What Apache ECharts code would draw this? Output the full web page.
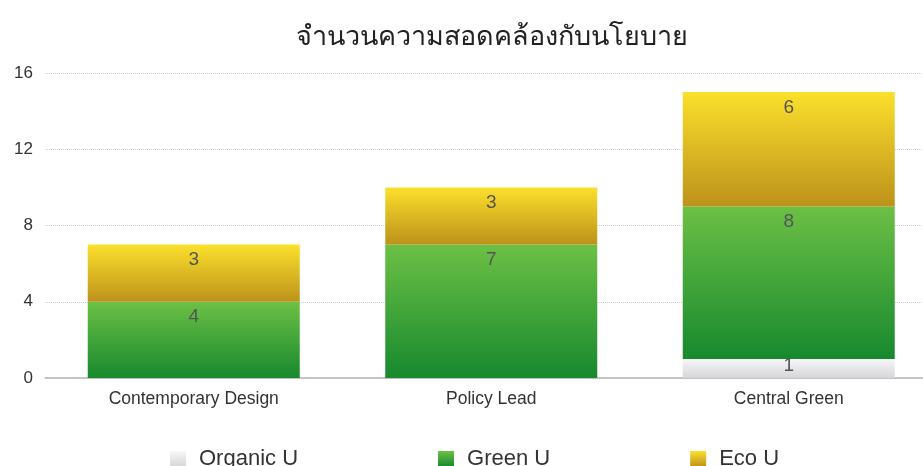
<!DOCTYPE html>
<html>
<head>
<meta charset="utf-8">
<script src="https://cdn.jsdelivr.net/npm/echarts@6/dist/echarts.min.js"></script>
<style>
  html, body { margin: 0; padding: 0; background: #fff; }
  #chart { width: 923px; height: 466px; }
</style>
</head>
<body>
<div id="chart"></div>
<script>
const titleText = 'จำนวนความสอดคล้องกับนโยบาย';
const categories = ['Contemporary Design', 'Policy Lead', 'Central Green'];
const organicU = [0, 0, 1];
const greenU = [4, 7, 8];
const ecoU = [3, 3, 6];
const yTicks = { min: 0, max: 16, interval: 4 };

const FONT = '"Helvetica Neue", "Liberation Sans", Arial, "Noto Sans", sans-serif';

function grad(top, bottom) {
  return new echarts.graphic.LinearGradient(0, 0, 0, 1, [
    { offset: 0, color: top },
    { offset: 1, color: bottom }
  ]);
}

const labelCfg = {
  show: true,
  position: 'insideTop',
  distance: 6,
  color: '#555',
  fontSize: 19,
  fontFamily: FONT,
  formatter: p => (p.value ? String(p.value) : '')
};

// Thin segments are too short for a top-anchored label, so centre it instead.
function toItems(values) {
  return values.map(v => (v > 0 && v < 2)
    ? { value: v, label: { position: 'inside', offset: [0, -3] } }
    : v);
}

function barSeries(name, data, top, bottom) {
  return {
    name: name,
    type: 'bar',
    stack: 'total',
    data: toItems(data),
    barWidth: 212,
    itemStyle: { color: grad(top, bottom) },
    label: labelCfg,
    emphasis: { disabled: true }
  };
}

const chart = echarts.init(document.getElementById('chart'), null, { renderer: 'canvas' });
chart.setOption({
  animation: false,
  title: {
    text: titleText,
    left: 487,
    textAlign: 'center',
    top: 19,
    textStyle: { fontSize: 27, fontWeight: 'normal', color: '#222', fontFamily: FONT }
  },
  legend: {
    top: 443,
    left: 165,
    itemWidth: 16,
    itemHeight: 16,
    itemGap: 140,
    icon: 'rect',
    textStyle: { fontSize: 22, color: '#333', fontFamily: FONT, padding: [0, 0, 0, 8] },
    data: ['Organic U', 'Green U', 'Eco U']
  },
  grid: {
    left: 45,
    top: 73,
    width: 892.5,
    height: 305,
    containLabel: false,
    outerBoundsMode: 'none'
  },
  xAxis: {
    type: 'category',
    data: categories,
    axisTick: { show: false },
    axisLine: { lineStyle: { color: '#b5b5b5', width: 1.5 } },
    axisLabel: { color: '#333', fontSize: 17.5, margin: 12, fontFamily: FONT }
  },
  yAxis: {
    type: 'value',
    min: yTicks.min,
    max: yTicks.max,
    interval: yTicks.interval,
    axisLine: { show: false },
    axisTick: { show: false },
    axisLabel: { color: '#333', fontSize: 17, margin: 12, fontFamily: FONT },
    splitLine: { lineStyle: { color: '#cfcfcf', type: 'dotted', width: 1 } }
  },
  series: [
    barSeries('Organic U', organicU, '#f7f7f8', '#d6d6d9'),
    barSeries('Green U', greenU, '#6cc045', '#17892e'),
    barSeries('Eco U', ecoU, '#fbe02c', '#bd921b')
  ]
});
</script>
</body>
</html>
